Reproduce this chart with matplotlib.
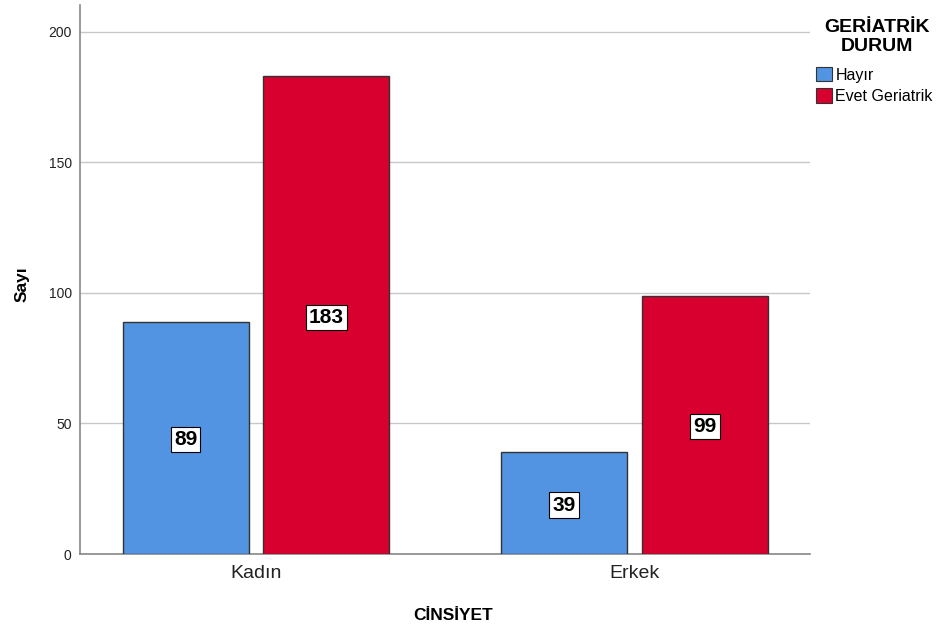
import matplotlib
matplotlib.use("Agg")
import matplotlib.pyplot as plt
from matplotlib.patches import Patch

categories = ["Kadın", "Erkek"]
series_names = ["Hayır", "Evet Geriatrik"]
hayir = [89, 39]
evet = [183, 99]
yticks = [0, 50, 100, 150, 200]

colors = ["#5294E2", "#D7002F"]

plt.rcParams['font.family'] = ['Liberation Sans', 'DejaVu Sans']

fig = plt.figure(figsize=(9.41, 6.29), dpi=100)
ax = fig.add_axes([80 / 941, 1 - 554 / 629, 730 / 941, 549 / 629])

width = 0.333
offset = 0.186
x = list(range(len(categories)))

for vals, sign, col in [(hayir, -1, colors[0]), (evet, 1, colors[1])]:
    pos = [xi + sign * offset for xi in x]
    ax.bar(pos, vals, width=width, color=col, edgecolor="#333333", linewidth=1.0, zorder=3)
    for p, v in zip(pos, vals):
        ax.text(p, v / 2, str(v), ha="center", va="center_baseline", fontsize=15,
                fontweight="bold", zorder=4,
                bbox=dict(boxstyle="square,pad=0.15", facecolor="white",
                          edgecolor="black", linewidth=0.8))

ax.set_xlim(-0.465, 1.464)
ax.set_ylim(0, 210.3)
ax.set_yticks(yticks)
ax.set_xticks(x)
ax.set_xticklabels(categories, fontsize=14, color="#222222")
ax.tick_params(axis="y", length=0, labelsize=10, pad=6, colors="#222222")
ax.tick_params(axis="x", length=0, pad=8)
ax.yaxis.grid(True, color="#C8C8C8", linewidth=1.0, zorder=0)
ax.set_axisbelow(True)

for s in ["top", "right"]:
    ax.spines[s].set_visible(False)
for s in ["left", "bottom"]:
    ax.spines[s].set_color("#888888")
    ax.spines[s].set_linewidth(1.2)

fig.text(22 / 941, 1 - 284 / 629, "Sayı", rotation=90, ha="center", va="center",
         fontsize=12.5, fontweight="bold")
fig.text(453 / 941, 1 - 615 / 629, "CİNSİYET", ha="center", va="center",
         fontsize=12.5, fontweight="bold")

# legend title, centred over the entries
fig.text(877 / 941, 1 - 37 / 629, "GERİATRİK\nDURUM", ha="center", va="center",
         multialignment="center", fontsize=14, fontweight="bold", linespacing=1.1)

handles = [Patch(facecolor=c, edgecolor="#333333", linewidth=0.8) for c in colors]
leg = fig.legend(handles, series_names,
                 loc="upper left", bbox_to_anchor=(813 / 941, 1 - 64 / 629),
                 frameon=False, fontsize=11.5, handlelength=1.0, handleheight=1.0,
                 handletextpad=0.2, labelspacing=0.35, borderpad=0.2, borderaxespad=0)

fig.savefig("out.png", dpi=100)
